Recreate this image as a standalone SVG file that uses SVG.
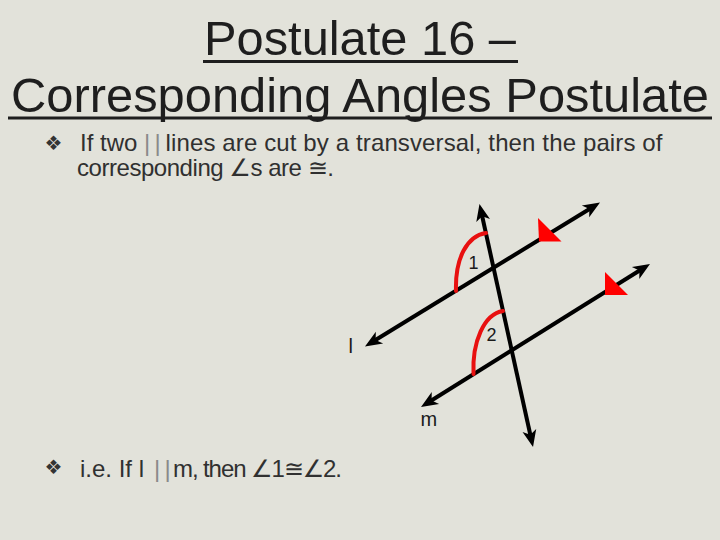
<svg xmlns="http://www.w3.org/2000/svg" width="720" height="540" viewBox="0 0 720 540">
<style>
.title{font-family:"Liberation Sans",Arial,sans-serif;font-size:49px;fill:#1e1e1e;text-anchor:middle}
.body{font-family:"Liberation Sans","DejaVu Sans",Arial,sans-serif;font-size:24px;fill:#303030}
.bar{font-family:"Liberation Sans",Arial,sans-serif;font-size:24px;fill:#8a8a8a}
.bullet{font-family:"DejaVu Sans",sans-serif;font-size:20px;fill:#333333}
.lbl{font-family:"Liberation Sans",Arial,sans-serif;fill:#1a1a1a}
.ln{stroke:#000;stroke-width:4;fill:none;marker-start:url(#ah);marker-end:url(#ah)}
.arc{stroke:#e81010;stroke-width:4;fill:none;stroke-linecap:round}
.tri{fill:#ff0000}
.ul{stroke:#1e1e1e;stroke-width:3}
</style>
<defs>
<marker id="ah" viewBox="-10 -8 20 16" markerWidth="20" markerHeight="16" refX="0" refY="0" orient="auto-start-reverse" markerUnits="userSpaceOnUse" overflow="visible">
<path d="M8,0 L-9,-7 L-4.5,0 L-9,7 Z" fill="#000"/>
</marker>
</defs>
<rect width="720" height="540" fill="#e2e2da"/>
<g id="title">
<text class="title" x="360" y="55" textLength="312" lengthAdjust="spacingAndGlyphs">Postulate 16 –</text>
<line class="ul" x1="203" y1="61.5" x2="518" y2="61.5"/>
<text class="title" x="360" y="112" textLength="698" lengthAdjust="spacingAndGlyphs">Corresponding Angles Postulate</text>
<line class="ul" x1="8" y1="118" x2="712" y2="118"/>
</g>
<g id="statement">
<text class="bullet" x="44.5" y="150">❖</text>
<text class="body" x="80" y="151">If two</text>
<text class="bar" x="144" y="151">|</text>
<text class="bar" x="154.5" y="151">|</text>
<text class="body" x="165.5" y="151" textLength="497">lines are cut by a transversal, then the pairs of</text>
<text class="body" x="77" y="176" textLength="257">corresponding ∠s are ≅.</text>
</g>
<g id="conclusion">
<text class="bullet" x="44.5" y="474">❖</text>
<text class="body" x="80" y="477">i.e. If l</text>
<text class="bar" x="154" y="477">|</text>
<text class="bar" x="164.5" y="477">|</text>
<text class="body" x="173" y="477" textLength="169">m, then ∠1≅∠2.</text>
</g>
<g id="connectors">
<line id="line-l" class="ln" x1="371.8" y1="342.3" x2="593.2" y2="206.7"/>
<line id="line-m" class="ln" x1="427.8" y1="402.8" x2="643.2" y2="268.2"/>
<line id="transversal" class="ln" x1="481.2" y1="211.8" x2="531.3" y2="439.2"/>
</g>
<g id="parallel-marks">
<polygon class="tri" points="538,218 539,241.5 561.5,241.5"/>
<polygon class="tri" points="605,272 605,295 628,295"/>
</g>
<g id="angle-1">
<path class="arc" d="M456,291 C455,258 467,236 486,233"/>
<text class="lbl" x="468.5" y="268.5" font-size="18">1</text>
</g>
<g id="angle-2">
<path class="arc" d="M473.5,374 C472,342 484,314 503,311"/>
<text class="lbl" x="486.5" y="341" font-size="18">2</text>
</g>
<g id="label-l"><text class="lbl" x="348.5" y="353" font-size="20">l</text></g>
<g id="label-m"><text class="lbl" x="420.5" y="425.5" font-size="20">m</text></g>
</svg>
